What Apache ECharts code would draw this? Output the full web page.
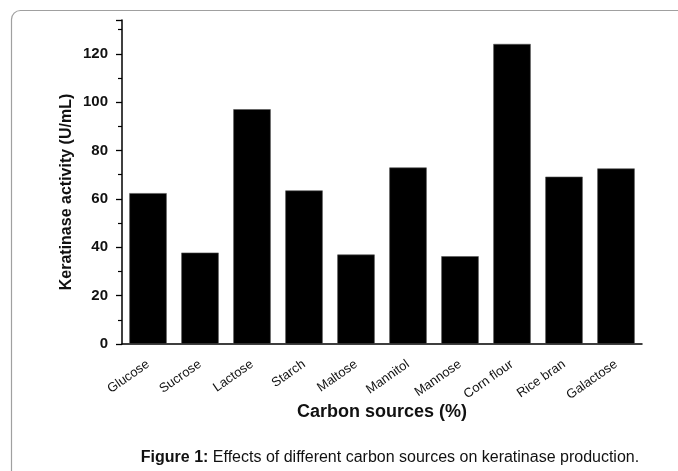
<!DOCTYPE html>
<html>
<head>
<meta charset="utf-8">
<script src="https://cdn.jsdelivr.net/npm/echarts@6/dist/echarts.min.js"></script>
<style>
html,body{margin:0;padding:0;background:#fff;}
#c{width:678px;height:471px;}
</style>
</head>
<body>
<div id="c"></div>
<script>
const categories = ['Glucose','Sucrose','Lactose','Starch','Maltose','Mannitol','Mannose','Corn flour','Rice bran','Galactose'];
const activity = [62.4, 37.8, 97.1, 63.5, 37.0, 73.0, 36.3, 124.1, 69.2, 72.6];
const yTicks = [0, 20, 40, 60, 80, 100, 120];
const yTitle = 'Keratinase activity (U/mL)';
const xTitle = 'Carbon sources (%)';
const captionBold = 'Figure 1:';
const captionText = ' Effects of different carbon sources on keratinase production.';

const chart = echarts.init(document.getElementById('c'), null, {renderer:'canvas'});
const font = 'Arial, "Liberation Sans", sans-serif';
chart.setOption({
  animation: false,
  backgroundColor: '#fff',
  title: {
    text: '{b|' + captionBold + '}{r|' + captionText + '}',
    left: 385, top: 445, textAlign: 'center',
    textStyle: {
      fontWeight: 'normal',
      rich: {
        b: {fontFamily: font, fontSize: 16, fontWeight: 'bold', color: '#111'},
        r: {fontFamily: font, fontSize: 16, fontWeight: 'normal', color: '#111'}
      }
    }
  },
  graphic: [{
    type: 'rect', x: 11.5, y: 10.5, silent: true, z: -1,
    shape: {x: 0, y: 0, width: 720, height: 520, r: 9},
    style: {fill: 'none', stroke: '#a0a0a0', lineWidth: 1.2}
  }],
  grid: {left: 122, top: 20, width: 520, bottom: 127, containLabel: false},
  xAxis: [{
    type: 'category', data: categories,
    axisLine: {lineStyle: {color: '#000', width: 1.5}},
    axisTick: {alignWithLabel: true, length: 5, lineStyle: {color: '#000', width: 1.3}},
    axisLabel: {rotate: 35, fontFamily: font, fontSize: 13, color: '#111', margin: 19, interval: 0},
    name: xTitle, nameLocation: 'middle', nameGap: 59, nameMoveOverlap: false,
    nameTextStyle: {fontFamily: font, fontSize: 18, fontWeight: 'bold', color: '#111'}
  }, {
    type: 'category', data: categories, position: 'bottom',
    axisLine: {show: false},
    axisTick: {length: 3, lineStyle: {color: '#000', width: 1.2}},
    axisLabel: {show: false}
  }],
  yAxis: {
    type: 'value', min: 0, max: 134, interval: 20,
    axisLine: {show: true, lineStyle: {color: '#000', width: 1.5}},
    axisTick: {show: true, length: 6, lineStyle: {color: '#000', width: 1.3}},
    minorTick: {show: true, splitNumber: 2, length: 4, lineStyle: {color: '#000', width: 1.2}},
    splitLine: {show: false},
    axisLabel: {
      fontFamily: font, fontSize: 15, fontWeight: 'bold', color: '#111', margin: 14,
      showMaxLabel: false,
      formatter: v => yTicks.indexOf(v) >= 0 ? String(v) : ''
    },
    name: yTitle, nameLocation: 'middle', nameGap: 47, nameRotate: 90, nameMoveOverlap: false,
    nameTextStyle: {fontFamily: font, fontSize: 16, fontWeight: 'bold', color: '#111', padding: [0, 20, 0, 0]}
  },
  series: [{
    type: 'bar', data: activity, xAxisIndex: 0,
    barCategoryGap: '28%',
    itemStyle: {color: '#000', borderColor: '#555', borderWidth: 0.6}
  }]
});
</script>
</body>
</html>
